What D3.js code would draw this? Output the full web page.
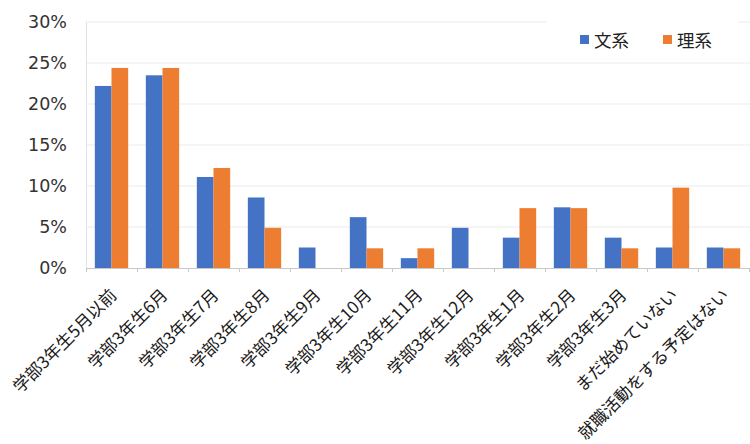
<!DOCTYPE html>
<html><head><meta charset="utf-8">
<script src="https://cdn.jsdelivr.net/npm/d3@7"></script>
<style>body{margin:0;background:#fff;}svg{display:block;}</style>
</head><body>
<svg id="c" width="750" height="444"></svg>
<script>
const categories = ["学部3年生5月以前","学部3年生6月","学部3年生7月","学部3年生8月","学部3年生9月","学部3年生10月","学部3年生11月","学部3年生12月","学部3年生1月","学部3年生2月","学部3年生3月","まだ始めていない","就職活動をする予定はない"];
const seriesNames = ["文系","理系"];
const bunkei = [22.2,23.5,11.1,8.6,2.5,6.2,1.2,4.9,3.7,7.4,3.7,2.5,2.5];
const rikei = [24.4,24.4,12.2,4.9,0,2.4,2.4,0,7.3,7.3,2.4,9.8,2.4];
const yTicks = [0,5,10,15,20,25,30];
const colors = ["#4472C4","#ED7D31"];

const svg = d3.select("#c");
const L = 86, R = 749, T = 22, B = 268;
const x = d3.scaleBand().domain(categories).range([L, R]).paddingInner(0).paddingOuter(0);
const xs = d3.scaleBand().domain(seriesNames).range([0, x.bandwidth()]).paddingInner(0).paddingOuter(0.53);
const y = d3.scaleLinear().domain([0,30]).range([B, T]);

// gridlines
svg.append("g").selectAll("line").data(yTicks.slice(1)).join("line")
  .attr("x1", L).attr("x2", 750).attr("y1", d=>y(d)).attr("y2", d=>y(d))
  .attr("stroke", "#ebebeb").attr("stroke-width", 1);
// left border
svg.append("line").attr("x1", L+0.5).attr("x2", L+0.5).attr("y1", T).attr("y2", B)
  .attr("stroke", "#e3e3e3");

// y labels
svg.append("g").selectAll("text").data(yTicks).join("text")
  .attr("x", 67).attr("y", d=>y(d)).attr("text-anchor","end").attr("dominant-baseline","central")
  .attr("font-family","DejaVu Sans, Verdana, sans-serif").attr("font-size","17.5px").attr("fill","#333")
  .text(d=>d+"%");

// bars
const data = categories.map((c,i)=>({c, vals:[bunkei[i], rikei[i]]}));
const g = svg.append("g").selectAll("g").data(data).join("g").attr("transform", d=>`translate(${x(d.c)},0)`);
g.selectAll("rect").data(d=>d.vals.map((v,j)=>({s:seriesNames[j], v, j}))).join("rect")
  .attr("x", d=>xs(d.s)).attr("width", xs.bandwidth())
  .attr("y", d=>y(d.v)).attr("height", d=>B - y(d.v))
  .attr("fill", d=>colors[d.j]);

// x axis
svg.append("line").attr("x1", L).attr("x2", R).attr("y1", B+0.5).attr("y2", B+0.5).attr("stroke","#c8c8c8");
svg.append("g").selectAll("line").data(d3.range(categories.length+1)).join("line")
  .attr("x1", i=>L + i*x.step()+0.5).attr("x2", i=>L + i*x.step()+0.5)
  .attr("y1", B).attr("y2", B+4).attr("stroke","#c8c8c8");

// x labels
svg.append("g").selectAll("text").data(categories).join("text")
  .attr("transform", d=>`translate(${x(d)+x.bandwidth()/2+1},${291}) rotate(-45)`)
  .attr("text-anchor","end").attr("dominant-baseline","central")
  .attr("font-family","Noto Sans CJK JP, sans-serif").attr("font-size","17px").attr("fill","#1a1a1a")
  .text(d=>d);

// legend
svg.append("rect").attr("x",547).attr("y",14).attr("width",191).attr("height",38).attr("fill","#fff");
const lg = svg.append("g").selectAll("g").data(seriesNames).join("g")
  .attr("transform", (d,i)=>`translate(${580 + i*83},0)`);
lg.append("rect").attr("x",0).attr("y",35).attr("width",9).attr("height",9).attr("fill",(d,i)=>colors[i]);
lg.append("text").attr("x",14).attr("y",39.5).attr("dominant-baseline","central")
  .attr("font-family","Noto Sans CJK JP, sans-serif").attr("font-size","17.5px").attr("fill","#222").text(d=>d);
</script>
</body></html>
